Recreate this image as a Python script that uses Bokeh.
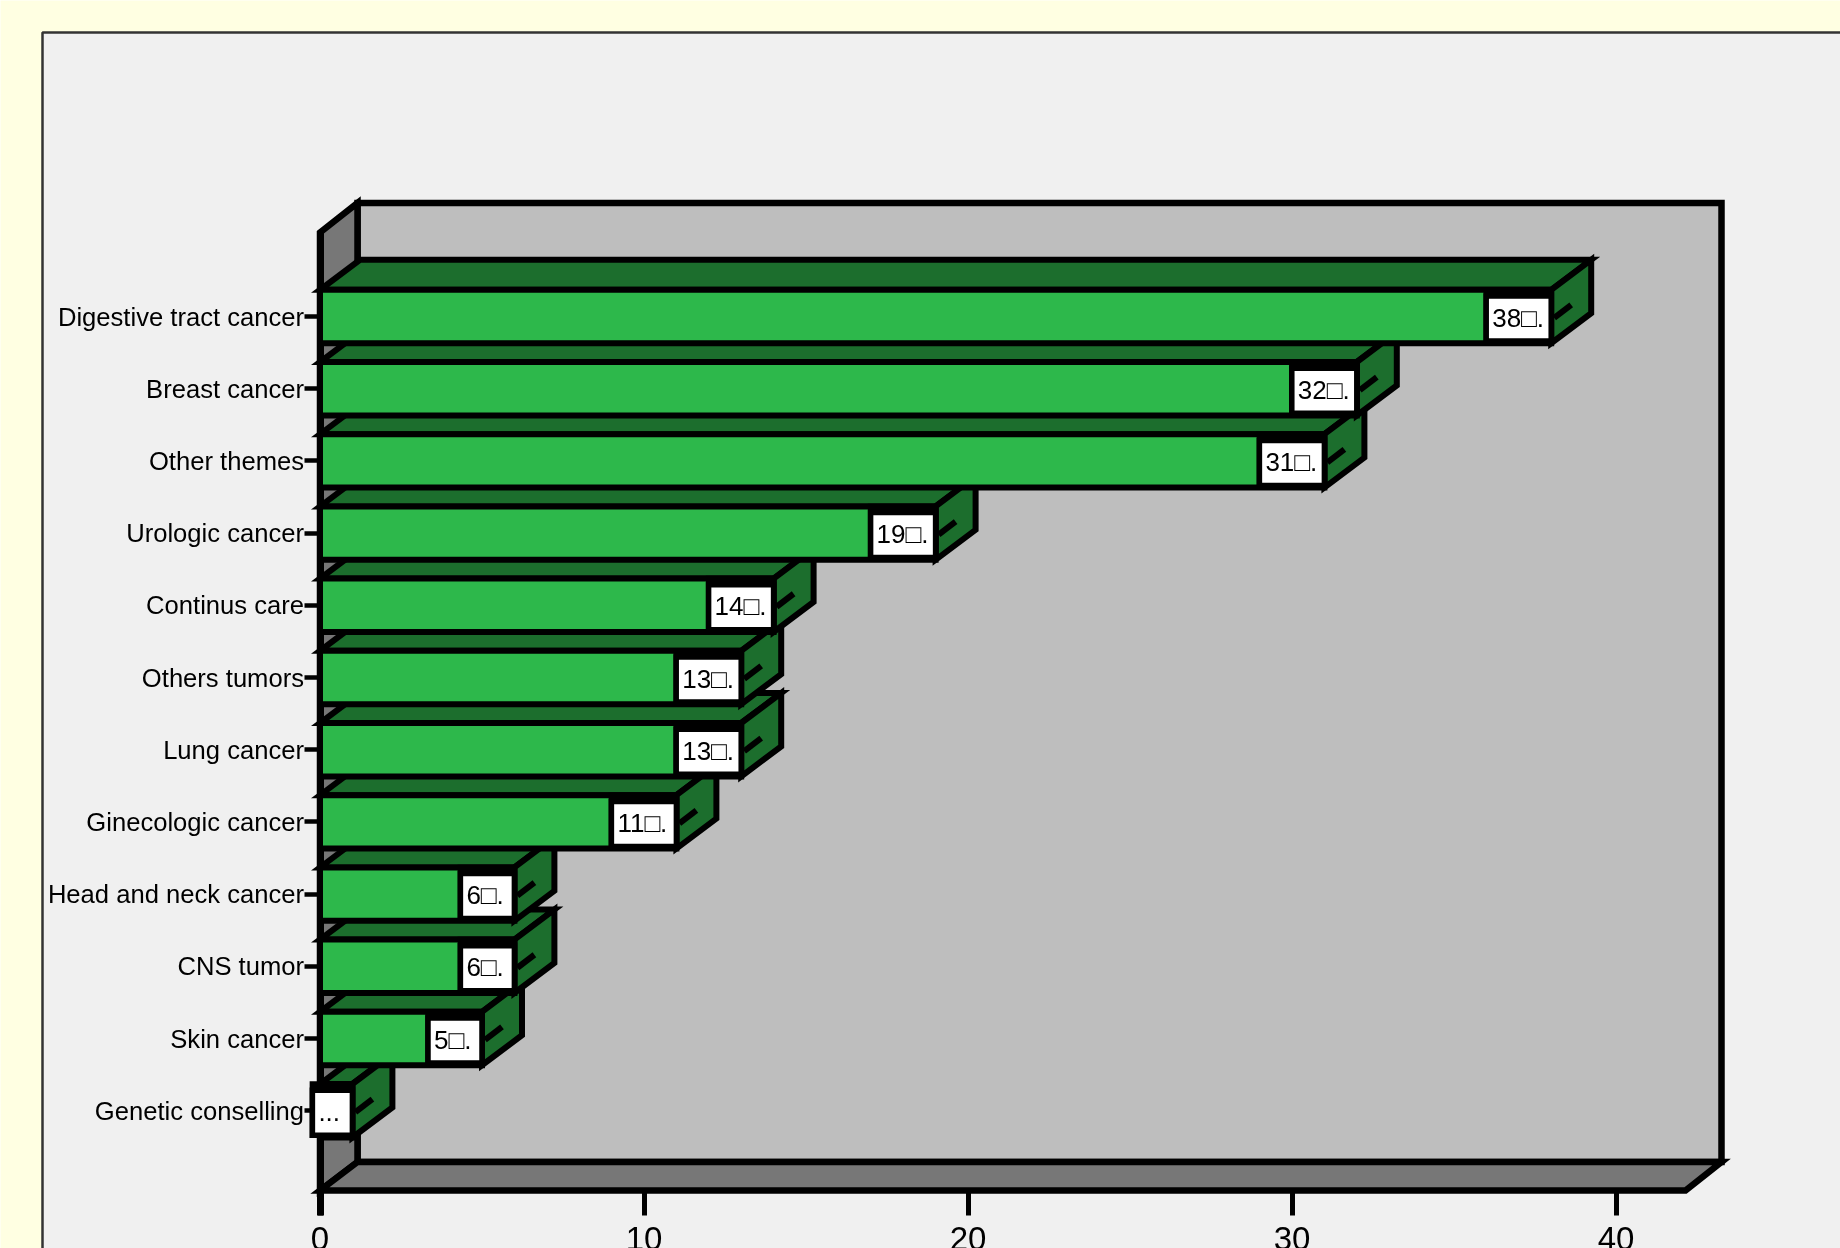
from bokeh.plotting import figure
from bokeh.models import Range1d, LinearAxis, FixedTicker
from bokeh.core.properties import value
from bokeh.embed import file_html
from bokeh.resources import INLINE

categories = ["Digestive tract cancer", "Breast cancer", "Other themes", "Urologic cancer",
              "Continus care", "Others tumors", "Lung cancer", "Ginecologic cancer",
              "Head and neck cancer", "CNS tumor", "Skin cancer", "Genetic conselling"]
counts = [38, 32, 31, 19, 14, 13, 13, 11, 6, 6, 5, 1]
bar_labels = ["38\u25a1.", "32\u25a1.", "31\u25a1.", "19\u25a1.", "14\u25a1.", "13\u25a1.", "13\u25a1.",
              "11\u25a1.", "6\u25a1.", "6\u25a1.", "5\u25a1.", "..."]
value_ticks = [0, 10, 20, 30, 40]

# pixel geometry of the page
W, H = 1840, 1248
X0, PX_PER_VALUE = 319.5, 32.4
Y0, PX_PER_ROW = 316.0, 72.2
DX, DY = 40 / PX_PER_VALUE, 30 / PX_PER_ROW
X = lambda px: (px - X0) / PX_PER_VALUE
Y = lambda px: (px - Y0) / PX_PER_ROW
BAR_HALF = 26.7 / PX_PER_ROW
LABEL_PX = [65, 65, 65, 65, 65, 65, 65, 65, 54, 54, 54, 40]

YELLOW, PANEL, WALL, SHADE = "#FFFFE2", "#F0F0F0", "#BEBEBE", "#777777"
GREEN, DARK = "#2DB84B", "#1C6E2D"
FONT = "Liberation Sans"

p = figure(width=W, height=H, output_backend="svg", toolbar_location=None,
           x_range=Range1d(X(0), X(W)), y_range=Range1d(Y(H), Y(0)),
           x_axis_type=None, y_axis_type=None, min_border=0,
           background_fill_color=YELLOW, border_fill_color=YELLOW,
           styles={"position": "fixed", "left": "0px", "top": "0px"})
p.outline_line_color = None
p.grid.visible = False

# grey panel, walls and floor
p.quad(left=X(42), right=X(W + 20), top=Y(32), bottom=Y(H + 20), fill_color=PANEL,
       line_color="#333333", line_width=2.5, level="image")
back_l, back_r, back_t, floor_b, floor_f, front_r = X(357), X(1721), Y(202.5), Y(1161.5), Y(1190), X(1685)
wall_kw = dict(line_color="black", line_join="miter", level="image")
p.patch([back_l, back_r, back_r, back_l], [back_t, back_t, floor_b, floor_b],
        fill_color=WALL, line_width=6.5, **wall_kw)
p.patch([0, back_l, back_l, 0], [Y(232), back_t, floor_b, floor_f],
        fill_color=SHADE, line_width=6.5, **wall_kw)
p.patch([0, front_r, back_r, back_l], [floor_f, floor_f, floor_b, floor_b],
        fill_color=SHADE, line_width=6.5, **wall_kw)

# bars, from the bottom row up so upper bars overlap lower ones
for i in range(len(counts) - 1, -1, -1):
    v = counts[i]
    top, bot = i - BAR_HALF, i + BAR_HALF
    kw = dict(line_color="black", line_width=6, line_join="miter")
    p.patch([0, v, v + DX, DX], [top, top, top - DY, top - DY], fill_color=DARK, **kw)
    p.patch([v, v + DX, v + DX, v], [top, top - DY, bot - DY, bot], fill_color=DARK, **kw)
    p.patch([0, v, v, 0], [top, top, bot, bot], fill_color=GREEN, **kw)
    p.segment(x0=[v + 3 / PX_PER_VALUE], y0=[i + 0.02], x1=[v + 20 / PX_PER_VALUE],
              y1=[i + 0.02 - 13 / PX_PER_ROW], line_color="black", line_width=6)
    box_w = LABEL_PX[i] / PX_PER_VALUE
    p.quad(left=v - box_w, right=v, top=top, bottom=i + 24.5 / PX_PER_ROW,
           fill_color="black", line_color="black", line_width=5.5, line_join="miter")
    p.quad(left=v - box_w, right=v, top=i - 20.5 / PX_PER_ROW, bottom=i + 24.5 / PX_PER_ROW,
           fill_color="white", line_color="black", line_width=5.5, line_join="miter")
    p.text(x=[v - box_w + 6 / PX_PER_VALUE], y=[i + 1 / PX_PER_ROW], text=[bar_labels[i]],
           text_font=value(FONT), text_font_size="26px", text_color="black",
           text_align="left", text_baseline="middle")

# value axis sitting on the floor's front edge
xaxis = LinearAxis(ticker=FixedTicker(ticks=value_ticks), fixed_location=floor_f,
                   bounds=(0, front_r), level="underlay")
xaxis.axis_line_color = "black"
xaxis.axis_line_width = 4
xaxis.major_tick_line_color = "black"
xaxis.major_tick_line_width = 5
xaxis.major_tick_out = 25
xaxis.major_tick_in = 0
xaxis.minor_tick_line_color = None
xaxis.major_label_standoff = 11
xaxis.major_label_text_font = FONT
xaxis.major_label_text_font_size = "33px"
xaxis.major_label_text_color = "black"
p.add_layout(xaxis, "below")

# category axis
yaxis = LinearAxis(ticker=FixedTicker(ticks=list(range(len(categories)))), fixed_location=0,
                   bounds=(Y(232), Y(1215)), level="underlay")
yaxis.major_label_overrides = {i: c for i, c in enumerate(categories)}
yaxis.axis_line_color = "black"
yaxis.axis_line_width = 7
yaxis.major_tick_line_color = "black"
yaxis.major_tick_line_width = 4.5
yaxis.major_tick_out = 16
yaxis.major_tick_in = 0
yaxis.minor_tick_line_color = None
yaxis.major_label_standoff = 0
yaxis.major_label_text_font = FONT
yaxis.major_label_text_font_size = "25.6px"
yaxis.major_label_text_color = "black"
p.add_layout(yaxis, "left")

open("out.html", "w").write(file_html(p, INLINE))
